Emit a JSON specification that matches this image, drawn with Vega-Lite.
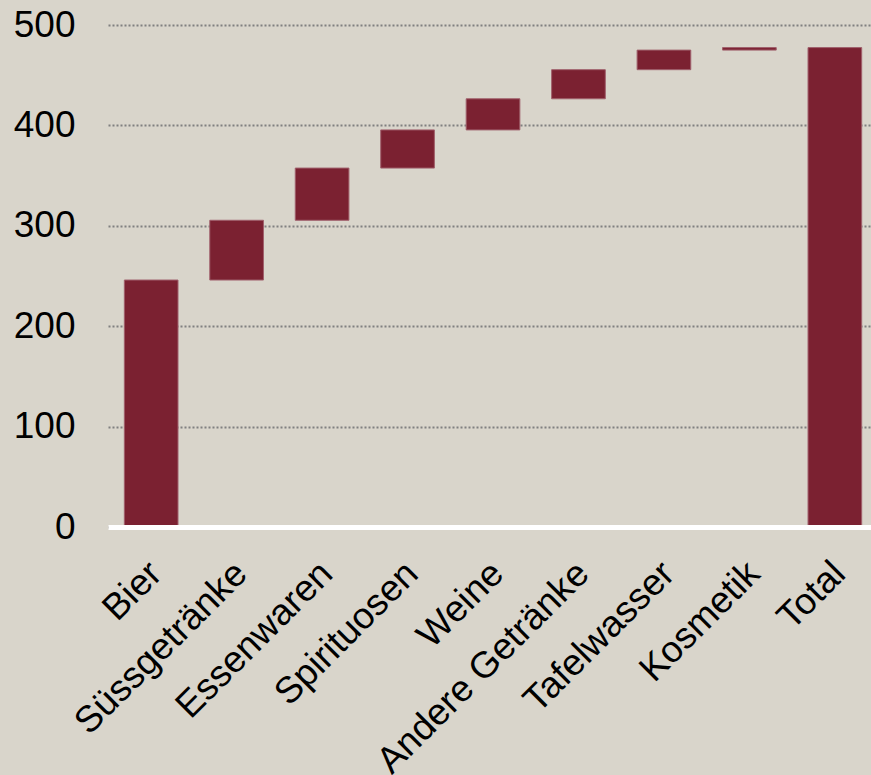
{
  "$schema": "https://vega.github.io/schema/vega-lite/v6.json",
  "width": 763,
  "height": 502,
  "autosize": {"type": "none"},
  "padding": {"left": 108, "top": 25, "right": 0, "bottom": 248},
  "background": "#d9d5cb",
  "config": {"view": {"stroke": null}, "font": "Liberation Sans"},
  "data": {
    "values": [
      {"kategorie": "Bier", "start": 0, "end": 246},
      {"kategorie": "Süssgetränke", "start": 246, "end": 305.5},
      {"kategorie": "Essenwaren", "start": 305.5, "end": 357.5},
      {"kategorie": "Spirituosen", "start": 357.5, "end": 395.5},
      {"kategorie": "Weine", "start": 395.5, "end": 426.5},
      {"kategorie": "Andere Getränke", "start": 426.5, "end": 455.5},
      {"kategorie": "Tafelwasser", "start": 455.5, "end": 475},
      {"kategorie": "Kosmetik", "start": 475, "end": 477.5},
      {"kategorie": "Total", "start": 0, "end": 477.5}
    ]
  },
  "mark": {"type": "bar", "color": "#7b2131", "stroke": "#a0606c", "strokeWidth": 1},
  "encoding": {
    "x": {
      "field": "kategorie",
      "type": "nominal",
      "sort": null,
      "scale": {"paddingInner": 0.372, "paddingOuter": 0.15, "align": 0.637},
      "axis": {
        "title": null,
        "ticks": false,
        "domainColor": "#ffffff",
        "domainWidth": 5,
        "labelAngle": -45,
        "labelAlign": "right",
        "labelBaseline": "top",
        "labelFontSize": 37,
        "labelColor": "#000000",
        "labelPadding": 28,
        "labelOffset": -8,
        "labelOverlap": false,
        "labelLimit": 0,
        "zindex": 1
      }
    },
    "y": {
      "field": "start",
      "type": "quantitative",
      "scale": {"domain": [0, 500], "nice": false},
      "axis": {
        "title": null,
        "ticks": false,
        "domain": false,
        "values": [0, 100, 200, 300, 400, 500],
        "grid": true,
        "gridColor": "#808080",
        "gridDash": [2, 2],
        "gridWidth": 2,
        "labelFontSize": 37,
        "labelColor": "#000000",
        "labelPadding": 33,
        "zindex": 0
      }
    },
    "y2": {"field": "end"}
  }
}
